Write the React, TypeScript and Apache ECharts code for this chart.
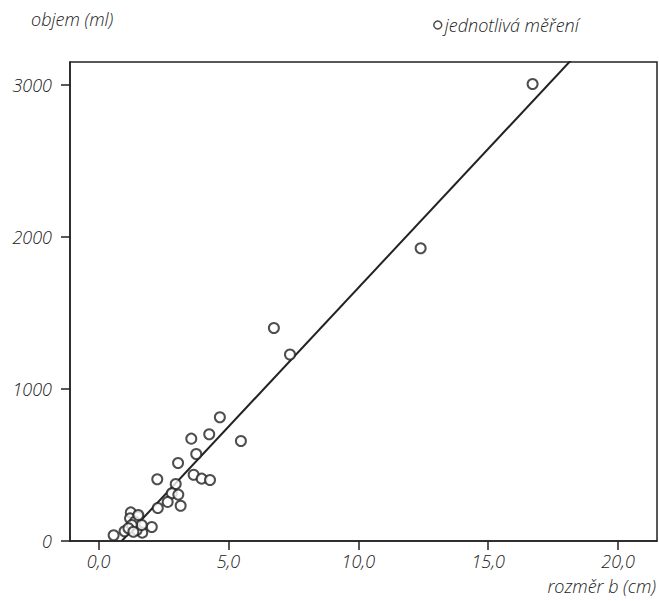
import React, { useEffect, useRef } from "react";
import * as echarts from "echarts";

const xValues = [16.71, 12.40, 6.75, 7.37, 4.67, 4.26, 3.57, 5.48, 3.76, 3.06, 2.26, 3.66, 3.97, 4.29, 2.97, 2.82, 3.07, 2.66, 3.16, 2.28, 1.24, 1.51, 2.05, 1.0, 0.58, 1.68, 1.47, 1.21, 1.40, 1.66, 1.28, 1.15, 1.34, 1.53];
const yValues = [3005, 1925, 1401, 1226, 814, 702, 673, 658, 572, 513, 406, 436, 410, 401, 375, 314, 305, 257, 232, 217, 188, 160, 92, 64, 38, 55, 72, 149, 127, 105, 105, 84, 61, 171];
const fitLineX = [0.89, 18.4];
const fitLineY = [0, 3200];
const xTicks = [0, 5, 10, 15, 20];
const yTicks = [0, 1000, 2000, 3000];
const seriesName = "jednotlivá měření";
const yTitle = "objem (ml)";
const xTitle = "rozměr b (cm)";

const FONT = "'Open Sans', sans-serif";
const TXT = "#222";
const FS = 18;

export default function App() {
  const ref = useRef<HTMLDivElement>(null);
  useEffect(() => {
    if (!ref.current) return;
    const chart = echarts.init(ref.current, undefined, { renderer: "svg" });
    chart.setOption({
      animation: false,
      backgroundColor: "#fff",
      grid: { left: 70, right: 2, top: 62, bottom: 60, show: true, borderColor: "#222", borderWidth: 1.5 },
      legend: {
        left: 428, top: 11, itemWidth: 8, itemHeight: 8, itemGap: 2,
        data: [{ name: seriesName, itemStyle: { borderWidth: 1.5 } }],
        textStyle: { fontFamily: FONT, fontStyle: "italic", fontWeight: 300, fontSize: FS, color: TXT, padding: [0, 0, 0, -2] },
      },
      graphic: [
        { type: "text", left: 31, top: 10, style: { text: yTitle, font: `italic 300 ${FS}px ${FONT}`, fill: TXT } },
        { type: "text", right: 3, top: 577, style: { text: xTitle, font: `italic 300 ${FS}px ${FONT}`, fill: TXT } },
      ],
      xAxis: {
        type: "value", min: -1.1, max: 21.5,
        axisLine: { show: true, onZero: false, lineStyle: { color: "#222", width: 1.5 } },
        axisTick: { show: true, length: 9, customValues: xTicks, lineStyle: { color: "#222", width: 1.5 } },
        axisLabel: {
          customValues: xTicks, margin: 11, fontFamily: FONT, fontStyle: "italic", fontWeight: 300, fontSize: FS, color: TXT,
          formatter: (v: number) => v.toFixed(1).replace(".", ","),
        },
        splitLine: { show: false },
      },
      yAxis: {
        type: "value", min: 0, max: 3150,
        axisLine: { show: true, onZero: false, lineStyle: { color: "#222", width: 1.5 } },
        axisTick: { show: true, length: 9, customValues: yTicks, lineStyle: { color: "#222", width: 1.5 } },
        axisLabel: {
          customValues: yTicks, margin: 18, fontFamily: FONT, fontStyle: "italic", fontWeight: 300, fontSize: FS, color: TXT,
          formatter: (v: number) => String(v),
        },
        splitLine: { show: false },
      },
      series: [
        {
          type: "line", data: fitLineX.map((x, i) => [x, fitLineY[i]]), symbol: "none", clip: true,
          lineStyle: { color: "#222", width: 2 }, silent: true, z: 1,
        },
        {
          name: seriesName, type: "scatter", symbol: "circle", symbolSize: 10,
          data: xValues.map((x, i) => [x, yValues[i]]),
          itemStyle: { color: "#fff", borderColor: "#222", borderWidth: 2 }, z: 2,
        },
      ],
    });
    return () => chart.dispose();
  }, []);
  return <div ref={ref} style={{ position: "fixed", left: 0, top: 0, width: 659, height: 601 }} />;
}
